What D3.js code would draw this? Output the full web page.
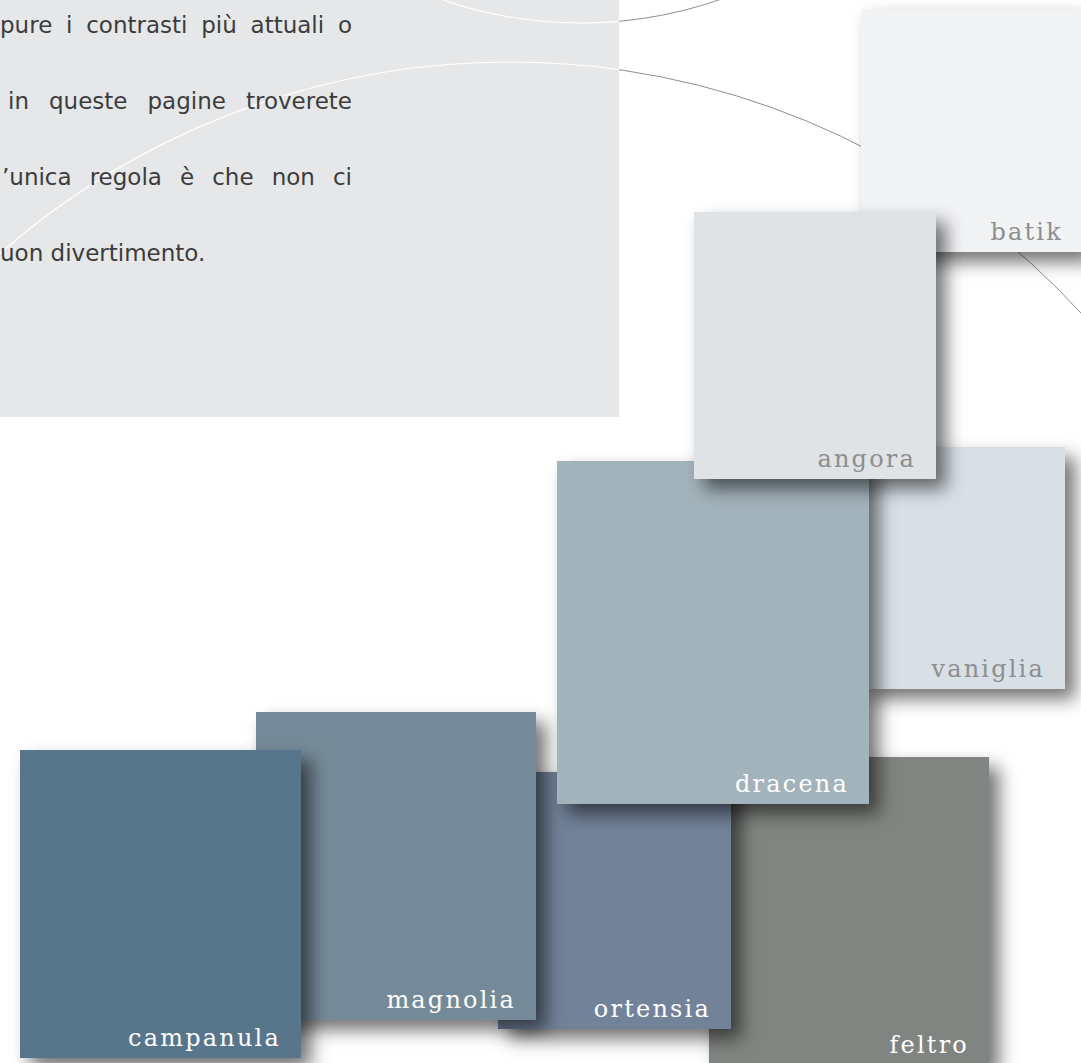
<!DOCTYPE html>
<html>
<head>
<meta charset="utf-8">
<script src="https://cdnjs.cloudflare.com/ajax/libs/d3/7.8.5/d3.min.js"></script>
<style>
  body { margin: 0; background: #fff; }
  svg { display: block; }
</style>
</head>
<body>
<div id="page"></div>
<script>
// Swatch cards, drawn bottom to top (later ones overlap earlier ones)
const swatchNames  = ["", "batik", "vaniglia", "feltro", "ortensia", "magnolia", "campanula", "dracena", "angora"];
const swatchColors = ["#e9eaec", "#f2f3f5", "#d8e0e6", "#818581", "#728299", "#758a98", "#58768b", "#a3b3bb", "#dfe3e5"];
// card corners in page units (left, top, right, bottom)
const swatchLeft   = [-262, 861, 860, 709, 498, 256, 20, 557, 694];
const swatchTop    = [ 770,   9, 447, 757, 772, 712, 750, 461, 212];
const swatchRight  = [  -2, 1083, 1065, 989, 731, 536, 301, 869, 936];
const swatchBottom = [ 935, 252, 689, 1065, 1029, 1020, 1058, 804, 479];

// Intro text, the part that shows on this page
const introLines = [
  "pure i contrasti più attuali o",
  "in queste pagine troverete",
  "’unica regola è che non ci",
  "uon divertimento."
];
const introStart = [0, 8, 2, 0];

// Decorative circles: centre x, centre y, radius
const circleCx = [581, 510];
const circleCy = [-402, 837];
const circleR  = [425, 775];

function page() {
  let width = 1081,
    height = 1063,
    textBox = {right: 619, bottom: 417},
    textRight = 352,
    x = d3.scaleLinear().domain([0, 1081]).range([0, width]),
    y = d3.scaleLinear().domain([0, 1063]).range([0, height]);

  function draw(selector) {
    const svg = d3.select(selector)
      .append("svg")
        .attr("width", width)
        .attr("height", height);

    const defs = svg.append("defs");
    defs.append("filter")
        .attr("id", "shadow")
        .attr("x", "-20%").attr("y", "-20%")
        .attr("width", "150%").attr("height", "150%")
      .append("feDropShadow")
        .attr("dx", 10)
        .attr("dy", 10)
        .attr("stdDeviation", 9)
        .attr("flood-color", "#000")
        .attr("flood-opacity", 0.55);

    defs.append("clipPath")
        .attr("id", "boxClip")
      .append("rect")
        .attr("x", 0).attr("y", 0)
        .attr("width", x(textBox.right)).attr("height", y(textBox.bottom));

    const circles = d3.range(circleR.length);

    // grey lines on the white page
    svg.append("g")
      .selectAll("circle")
      .data(circles)
      .join("circle")
        .attr("cx", i => x(circleCx[i]))
        .attr("cy", i => y(circleCy[i]))
        .attr("r", i => circleR[i])
        .style("fill", "none")
        .style("stroke", "#8f8f8f")
        .style("stroke-width", 1);

    // grey text panel
    svg.append("rect")
        .attr("x", 0).attr("y", 0)
        .attr("width", x(textBox.right))
        .attr("height", y(textBox.bottom))
        .style("fill", "#e6e7e9");

    // same lines in white across the panel
    svg.append("g")
        .attr("clip-path", "url(#boxClip)")
      .selectAll("circle")
      .data(circles)
      .join("circle")
        .attr("cx", i => x(circleCx[i]))
        .attr("cy", i => y(circleCy[i]))
        .attr("r", i => circleR[i])
        .style("fill", "none")
        .style("stroke", "#ffffff")
        .style("stroke-width", 1.2);

    // intro text; justified lines get extra word spacing, last line ragged
    svg.append("g")
      .selectAll("text")
      .data(introLines)
      .join("text")
        .attr("x", (d, i) => x(introStart[i]))
        .attr("y", (d, i) => y(33 + i * 76))
        .style("font-family", "'DejaVu Sans', 'Noto Sans', sans-serif")
        .style("font-size", "23px")
        .style("fill", "#3c3c3c")
        .text(d => d)
        .each(function (d, i) {
          if (i > 2) return;
          const natural = this.getComputedTextLength();
          const gaps = d.split(" ").length - 1;
          const extra = (x(textRight) - x(introStart[i]) - natural) / gaps;
          d3.select(this).style("word-spacing", extra + "px");
        });

    // swatch cards
    const cards = svg.append("g")
      .selectAll("g")
      .data(d3.range(swatchNames.length))
      .join("g");

    cards.append("rect")
        .attr("x", i => x(swatchLeft[i]))
        .attr("y", i => y(swatchTop[i]))
        .attr("width", i => x(swatchRight[i]) - x(swatchLeft[i]))
        .attr("height", i => y(swatchBottom[i]) - y(swatchTop[i]))
        .attr("filter", "url(#shadow)")
        .style("fill", i => swatchColors[i]);

    cards.append("text")
        .attr("x", i => x(swatchRight[i]) - 20)
        .attr("y", i => y(swatchBottom[i]) - 12)
        .attr("text-anchor", "end")
        .style("font-family", "'DejaVu Serif', serif")
        .style("font-size", "24px")
        .style("letter-spacing", "2.2px")
        .style("fill", i => d3.hsl(swatchColors[i]).l > 0.75 ? "#8c8e8f" : "#ffffff")
        .text(i => swatchNames[i]);

    return draw;
  }

  return draw;
}

page()("#page");
</script>
</body>
</html>
